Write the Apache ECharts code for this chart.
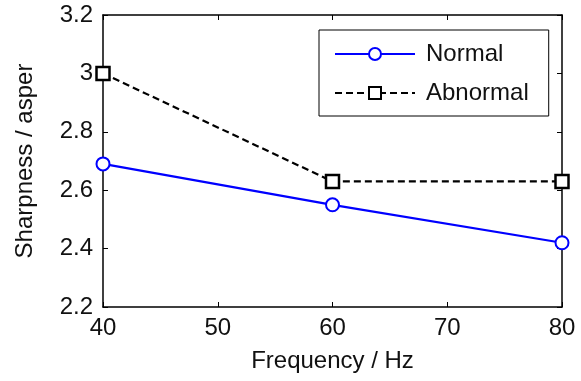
<!DOCTYPE html>
<html><head><meta charset="utf-8">
<script src="https://cdn.jsdelivr.net/npm/echarts@6/dist/echarts.min.js"></script>
<style>html,body{margin:0;padding:0;background:#fff}#c{width:581px;height:381px}</style>
</head><body><div id="c"></div>
<script>
const frequencies = [40, 60, 80];
const normalValues = [2.69, 2.55, 2.42];
const abnormalValues = [3.0, 2.63, 2.63];
const yTicks = [2.2, 2.4, 2.6, 2.8, 3, 3.2];
const xTicks = [40, 50, 60, 70, 80];

const font = 'Liberation Sans, Arial, sans-serif';
const fs = 24;
const chart = echarts.init(document.getElementById('c'), null, {renderer: 'canvas'});
const axisCommon = {
  axisLine: {show: true, onZero: false, lineStyle: {color: '#000', width: 1.5}},
  axisTick: {show: true, inside: true, length: 5, lineStyle: {color: '#000', width: 1}},
  splitLine: {show: false}
};
chart.setOption({
  animation: false,
  backgroundColor: '#fff',
  grid: {left: 103, right: 19, top: 15, bottom: 74},
  legend: {
    orient: 'vertical', left: 319, top: 30,
    borderColor: '#000', borderWidth: 1,
    padding: [12, 20, 11, 15],
    itemWidth: 80, itemHeight: 15, itemGap: 15,
    textStyle: {fontFamily: font, fontSize: fs, color: '#111', padding: [0, 0, 0, 6]},
    data: ['Normal', 'Abnormal']
  },
  xAxis: [
    Object.assign({}, axisCommon, {
      type: 'value', min: 40, max: 80, interval: 10, position: 'bottom',
      name: 'Frequency / Hz', nameLocation: 'middle', nameGap: 42,
      nameTextStyle: {fontFamily: font, fontSize: fs, color: '#111'},
      axisLabel: {fontFamily: font, fontSize: fs, color: '#111', margin: 9,
        formatter: v => xTicks.includes(v) ? String(v) : ''}
    }),
    Object.assign({}, axisCommon, {
      type: 'value', min: 40, max: 80, interval: 10, position: 'top',
      axisLabel: {show: false}
    })
  ],
  yAxis: [
    Object.assign({}, axisCommon, {
      type: 'value', min: 2.2, max: 3.2, interval: 0.2, position: 'left',
      name: 'Sharpness / asper', nameLocation: 'middle', nameGap: 66,
      nameTextStyle: {fontFamily: font, fontSize: fs, color: '#111'},
      axisLabel: {fontFamily: font, fontSize: fs, color: '#111', margin: 10,
        formatter: v => { const t = yTicks.find(x => Math.abs(x - v) < 1e-6); return t === undefined ? '' : String(t); }}
    }),
    Object.assign({}, axisCommon, {
      type: 'value', min: 2.2, max: 3.2, interval: 0.2, position: 'right',
      axisLabel: {show: false}
    })
  ],
  series: [
    {
      name: 'Normal', type: 'line', xAxisIndex: 0, yAxisIndex: 0,
      data: frequencies.map((f, i) => [f, normalValues[i]]),
      symbol: 'emptyCircle', symbolSize: 13,
      lineStyle: {color: '#0000ff', width: 2.2},
      itemStyle: {color: '#0000ff', borderColor: '#0000ff', borderWidth: 2.5},
      z: 3
    },
    {
      name: 'Abnormal', type: 'line', xAxisIndex: 0, yAxisIndex: 0,
      data: frequencies.map((f, i) => [f, abnormalValues[i]]),
      symbol: 'rect', symbolSize: 13,
      lineStyle: {color: '#000', width: 2.2, type: [7, 4]},
      itemStyle: {color: '#fff', borderColor: '#000', borderWidth: 2.5},
      z: 3
    }
  ]
});
</script></body></html>
